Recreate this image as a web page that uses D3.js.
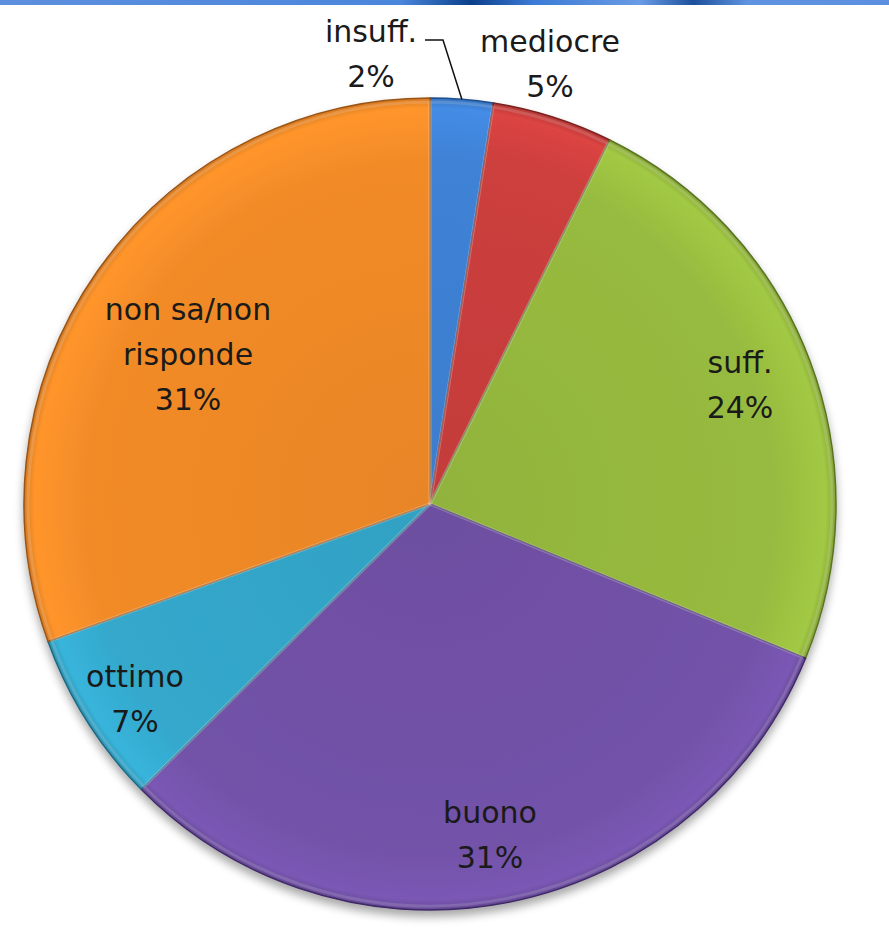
<!DOCTYPE html>
<html>
<head>
<meta charset="utf-8">
<script src="https://cdn.jsdelivr.net/npm/d3@7"></script>
<style>
  html, body { margin: 0; padding: 0; background: #ffffff; }
  svg { display: block; }
</style>
</head>
<body>
<svg id="chart" width="889" height="938"></svg>
<script>
// ---- data ----
const categories = ["insuff.", "mediocre", "suff.", "buono", "ottimo", "non sa/non risponde"];
const values = [2.5, 4.8, 23.9, 31.4, 6.9, 30.5];
const percentLabels = ["2%", "5%", "24%", "31%", "7%", "31%"];
const labelLines = [["insuff."], ["mediocre"], ["suff."], ["buono"], ["ottimo"], ["non sa/non", "risponde"]];
const colors = ["#3f82d6", "#cc3f3d", "#97bb3f", "#7252a8", "#34a8cc", "#f28b28"];
const strokeColors = ["#1f4f8f", "#7a2220", "#5a7524", "#3f2a66", "#1d6882", "#9a5414"];

// ---- layout ----
const svg = d3.select("#chart");
const W = 889, H = 938;
const cx = 430, cy = 504, R = 406;

const defs = svg.append("defs");

// header bar gradient
const hg = defs.append("linearGradient").attr("id", "hdr").attr("x1", "0").attr("x2", "1").attr("y1", "0").attr("y2", "0");
[[0, "#5e8fde"], [0.45, "#4a86dc"], [0.53, "#0b3f8a"], [0.6, "#3b7bd6"], [0.72, "#6a9be4"], [0.78, "#1d4f9c"], [0.84, "#5f93e0"], [1, "#5d8fe0"]]
  .forEach(([o, c]) => hg.append("stop").attr("offset", o).attr("stop-color", c));
svg.append("rect").attr("x", 0).attr("y", 0).attr("width", W).attr("height", 5).attr("fill", "url(#hdr)");

// shadow filter
const f = defs.append("filter").attr("id", "shadow").attr("x", "-10%").attr("y", "-10%").attr("width", "120%").attr("height", "125%");
f.append("feGaussianBlur").attr("in", "SourceAlpha").attr("stdDeviation", 5).attr("result", "b");
f.append("feOffset").attr("in", "b").attr("dx", 0).attr("dy", 6).attr("result", "o");
f.append("feComponentTransfer").attr("in", "o").attr("result", "o2")
  .append("feFuncA").attr("type", "linear").attr("slope", 0.35);
const fm = f.append("feMerge");
fm.append("feMergeNode").attr("in", "o2");
fm.append("feMergeNode").attr("in", "SourceGraphic");

// subtle radial shading per slice (in the pie group's coordinate space)
colors.forEach((c, i) => {
  const g = defs.append("radialGradient").attr("id", "g" + i)
    .attr("gradientUnits", "userSpaceOnUse").attr("cx", 0).attr("cy", 0).attr("r", R);
  g.append("stop").attr("offset", 0).attr("stop-color", d3.color(c).darker(0.12));
  g.append("stop").attr("offset", 0.85).attr("stop-color", c);
  g.append("stop").attr("offset", 0.975).attr("stop-color", d3.color(c).brighter(0.2));
  g.append("stop").attr("offset", 1).attr("stop-color", d3.color(c).darker(0.35));
});

const pie = d3.pie().sort(null).value(d => d).startAngle(0).endAngle(2 * Math.PI);
const arcs = pie(values);
const arc = d3.arc().innerRadius(0).outerRadius(R);

const g = svg.append("g").attr("transform", `translate(${cx},${cy})`);
const pg = g.append("g").attr("filter", "url(#shadow)");
pg.selectAll("path.slice").data(arcs).enter().append("path")
  .attr("class", "slice")
  .attr("d", arc)
  .attr("fill", (d, i) => `url(#g${i})`)
  .attr("stroke", (d, i) => strokeColors[i])
  .attr("stroke-width", 1.5)
  .attr("stroke-linejoin", "round");

// inner bevel highlight along the slice edges
const arcIn = d3.arc().innerRadius(0).outerRadius(R - 4);
g.selectAll("path.bevel").data(arcs).enter().append("path")
  .attr("class", "bevel")
  .attr("d", arcIn)
  .attr("fill", "none")
  .attr("stroke", "#ffffff")
  .attr("stroke-opacity", 0.15)
  .attr("stroke-width", 3);

// ---- labels ----
const labelPos = [
  [371, 42], [550, 52], [740, 373], [490, 823], [135, 687], [188, 320]
];
const lineH = 45;
const font = "'DejaVu Sans', Verdana, sans-serif";
categories.forEach((c, i) => {
  const lines = labelLines[i].concat([percentLabels[i]]);
  const t = svg.append("text")
    .attr("text-anchor", "middle")
    .attr("font-family", font)
    .attr("font-size", 30)
    .attr("fill", "#1a1a1a");
  lines.forEach((ln, j) => {
    t.append("tspan").attr("x", labelPos[i][0]).attr("y", labelPos[i][1] + j * lineH).text(ln);
  });
});

// leader line for insuff.
const a0 = arcs[0];
const midA = (a0.startAngle + a0.endAngle) / 2;
const px = cx + Math.sin(midA) * R, py = cy - Math.cos(midA) * R;
svg.append("path")
  .attr("d", d3.line()([[425, 40], [443, 40], [px, py]]))
  .attr("fill", "none").attr("stroke", "#111").attr("stroke-width", 1.5);
</script>
</body>
</html>
